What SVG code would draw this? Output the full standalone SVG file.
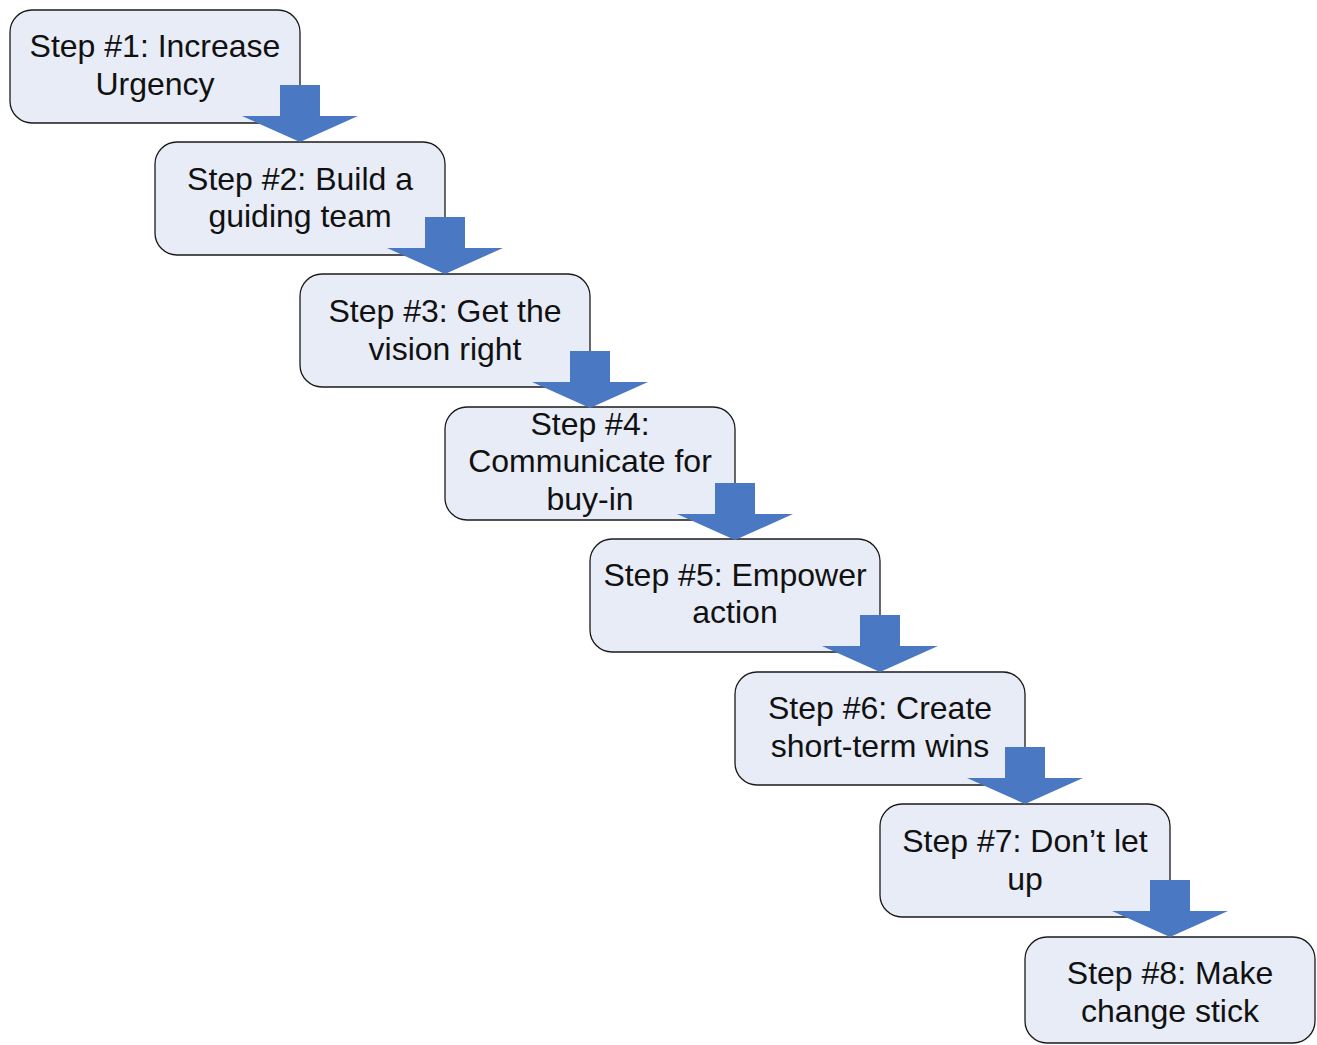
<svg xmlns="http://www.w3.org/2000/svg" width="1317" height="1045" viewBox="0 0 1317 1045">
<defs>
<style>
.box{fill:#E8ECF7;stroke:#1A1A1A;stroke-width:1.3}
.t{font-family:"Liberation Sans",Arial,sans-serif;font-size:32px;fill:#111;text-anchor:middle}
.arr{fill:#4A78C2}
</style>
<path id="arrow" d="M-20,0 H20 V31 H58 L0,57 L-58,31 H-20 Z"/>
</defs>
<rect width="1317" height="1045" fill="#fff"/>
<g id="node1"><rect class="box" x="10" y="10" width="290" height="113" rx="22"/><text class="t" x="155" y="57">Step #1: Increase</text><text class="t" x="155" y="95">Urgency</text></g>
<g id="node2"><rect class="box" x="155" y="142" width="290" height="113" rx="22"/><text class="t" x="300" y="190">Step #2: Build a</text><text class="t" x="300" y="227">guiding team</text></g>
<g id="node3"><rect class="box" x="300" y="274" width="290" height="113" rx="22"/><text class="t" x="445" y="322">Step #3: Get the</text><text class="t" x="445" y="360">vision right</text></g>
<g id="node4"><rect class="box" x="445" y="407" width="290" height="113" rx="22"/><text class="t" x="590" y="435">Step #4:</text><text class="t" x="590" y="472">Communicate for</text><text class="t" x="590" y="510">buy-in</text></g>
<g id="node5"><rect class="box" x="590" y="539" width="290" height="113" rx="22"/><text class="t" x="735" y="586">Step #5: Empower</text><text class="t" x="735" y="623">action</text></g>
<g id="node6"><rect class="box" x="735" y="672" width="290" height="113" rx="22"/><text class="t" x="880" y="719">Step #6: Create</text><text class="t" x="880" y="757">short-term wins</text></g>
<g id="node7"><rect class="box" x="880" y="804" width="290" height="113" rx="22"/><text class="t" x="1025" y="852">Step #7: Don’t let</text><text class="t" x="1025" y="890">up</text></g>
<g id="node8"><rect class="box" x="1025" y="937" width="290" height="106" rx="22"/><text class="t" x="1170" y="984">Step #8: Make</text><text class="t" x="1170" y="1022">change stick</text></g>
<g id="connectors">
<use href="#arrow" class="arr" x="300" y="85"/>
<use href="#arrow" class="arr" x="445" y="217"/>
<use href="#arrow" class="arr" x="590" y="351"/>
<use href="#arrow" class="arr" x="735" y="483"/>
<use href="#arrow" class="arr" x="880" y="615"/>
<use href="#arrow" class="arr" x="1025" y="747"/>
<use href="#arrow" class="arr" x="1170" y="880"/>
</g>
</svg>
